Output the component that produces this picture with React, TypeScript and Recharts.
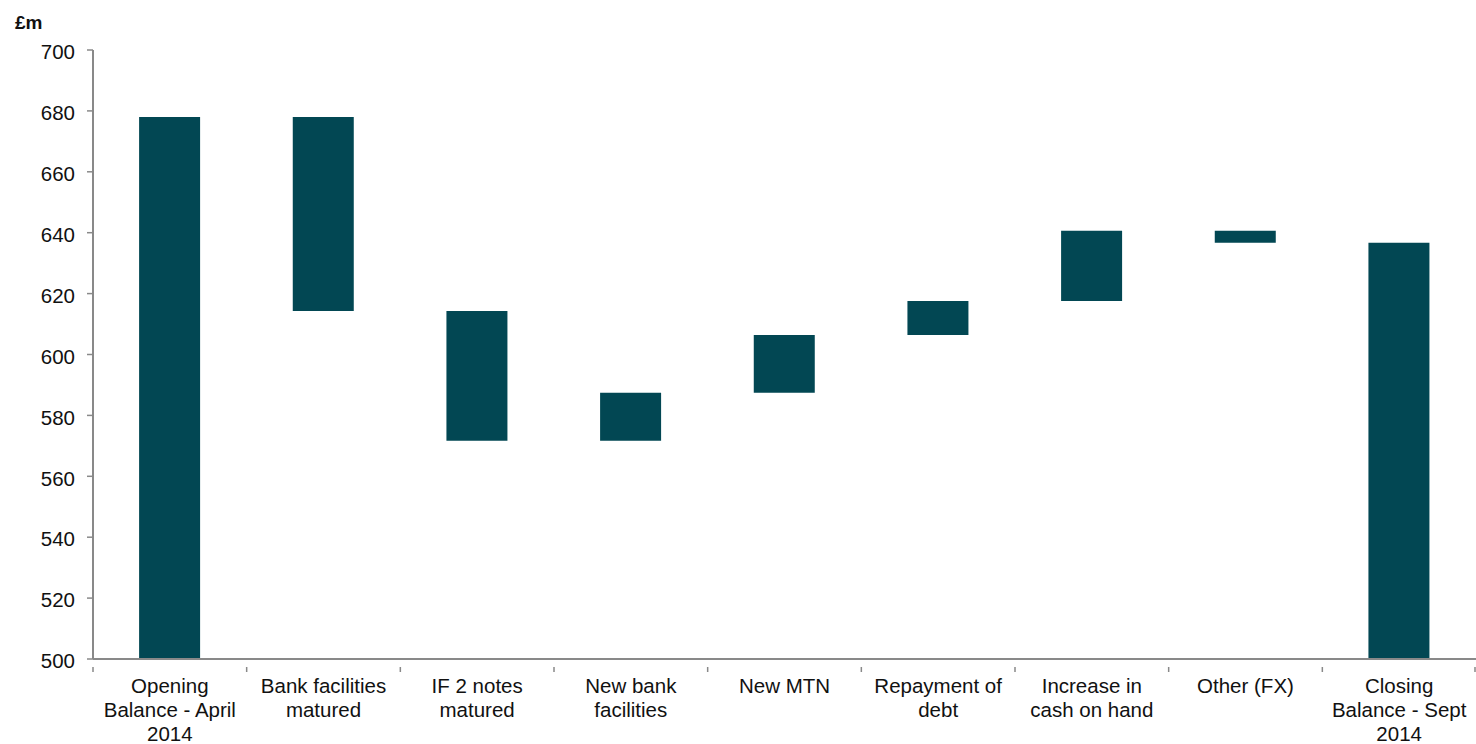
import { Bar, BarChart, XAxis, YAxis } from 'recharts';

const FONT = '"Liberation Sans", Arial, sans-serif';
const BAR = '#024753';
const AXIS = '#898989';

const W = 1476;
const H = 744;
const Y_AXIS_W = 93;
const BAND = (W - Y_AXIS_W) / 9;

// category labels, pre-split the way they wrap in the original
const labels: string[][] = [
  ['Opening', 'Balance - April', '2014'],
  ['Bank facilities', 'matured'],
  ['IF 2 notes', 'matured'],
  ['New bank', 'facilities'],
  ['New MTN'],
  ['Repayment of', 'debt'],
  ['Increase in', 'cash on hand'],
  ['Other (FX)'],
  ['Closing', 'Balance - Sept', '2014'],
];

// bottom and top of each floating bar (£m)
const lows = [500, 614.3, 571.7, 571.7, 587.4, 606.4, 617.6, 636.7, 500];
const highs = [678, 678, 614.3, 587.4, 606.4, 617.6, 640.6, 640.6, 636.7];

const yTicks = [500, 520, 540, 560, 580, 600, 620, 640, 660, 680, 700];

const data = labels.map((l, i) => ({
  name: l.join(' '),
  range: [lows[i], highs[i]],
}));

function XTick(props: any) {
  const { x, y, payload, index } = props;
  const i0 = index ?? payload.index;
  const lines = labels[i0] || [];
  const left = x - BAND / 2;
  const right = x + BAND / 2;
  const last = i0 === labels.length - 1;
  return (
    <g>
      <line x1={left} x2={left} y1={y} y2={y + 5} stroke={AXIS} strokeWidth={1.5} />
      {last && <line x1={right - 1} x2={right - 1} y1={y} y2={y + 5} stroke={AXIS} strokeWidth={1.5} />}
      <text x={x} y={y + 26} textAnchor="middle" fontSize={20.5} fontFamily={FONT} fill="#111">
        {lines.map((t, i) => (
          <tspan key={i} x={x} dy={i === 0 ? 0 : 24}>
            {t}
          </tspan>
        ))}
      </text>
    </g>
  );
}

export default function App() {
  return (
    <div style={{ position: 'absolute', left: 0, top: 0, width: W, height: H, background: '#fff' }}>
      <div
        style={{
          position: 'absolute',
          left: 15,
          top: 13,
          fontFamily: FONT,
          fontWeight: 'bold',
          fontSize: 19,
          lineHeight: 1,
          color: '#111',
        }}
      >
        £m
      </div>
      <BarChart
        width={W}
        height={H}
        data={data}
        margin={{ top: 50, right: 0, bottom: 0, left: 0 }}
        barCategoryGap="30%"
      >
        <XAxis
          dataKey="name"
          height={85}
          interval={0}
          tickLine={false}
          axisLine={{ stroke: AXIS, strokeWidth: 2 }}
          tick={<XTick />}
        />
        <YAxis
          width={Y_AXIS_W}
          domain={[500, 700]}
          ticks={yTicks}
          allowDataOverflow
          tickSize={6}
          tickMargin={12}
          tickLine={{ stroke: AXIS, strokeWidth: 1.5 }}
          axisLine={{ stroke: AXIS, strokeWidth: 2 }}
          tick={{ fontSize: 20.5, fontFamily: FONT, fill: '#111', dy: 2 }}
        />
        <Bar dataKey="range" fill={BAR} isAnimationActive={false} />
      </BarChart>
    </div>
  );
}
